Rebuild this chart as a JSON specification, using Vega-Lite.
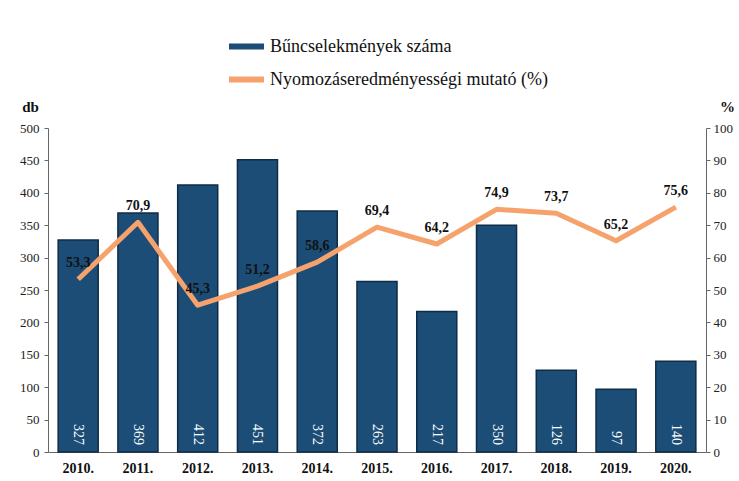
{
  "$schema": "https://vega.github.io/schema/vega-lite/v6.json",
  "width": 658,
  "height": 324,
  "autosize": {"type": "none"},
  "padding": {"left": 48, "top": 128, "right": 33, "bottom": 29},
  "background": "white",
  "config": {
    "view": {"stroke": null},
    "font": "Liberation Serif",
    "axis": {"labelFont": "Liberation Serif", "titleFont": "Liberation Serif", "labelColor": "#222", "domainColor": "#666", "tickColor": "#666", "grid": false}
  },
  "data": {
    "values": [
      {"year": "2010.", "count": 327, "pct": 53.3, "pctLabel": "53,3"},
      {"year": "2011.", "count": 369, "pct": 70.9, "pctLabel": "70,9"},
      {"year": "2012.", "count": 412, "pct": 45.3, "pctLabel": "45,3"},
      {"year": "2013.", "count": 451, "pct": 51.2, "pctLabel": "51,2"},
      {"year": "2014.", "count": 372, "pct": 58.6, "pctLabel": "58,6"},
      {"year": "2015.", "count": 263, "pct": 69.4, "pctLabel": "69,4"},
      {"year": "2016.", "count": 217, "pct": 64.2, "pctLabel": "64,2"},
      {"year": "2017.", "count": 350, "pct": 74.9, "pctLabel": "74,9"},
      {"year": "2018.", "count": 126, "pct": 73.7, "pctLabel": "73,7"},
      {"year": "2019.", "count": 97, "pct": 65.2, "pctLabel": "65,2"},
      {"year": "2020.", "count": 140, "pct": 75.6, "pctLabel": "75,6"}
    ]
  },
  "encoding": {
    "x": {
      "field": "year", "type": "ordinal", "sort": null,
      "scale": {"paddingInner": 0.33, "paddingOuter": 0.17},
      "axis": {"title": null, "labelAngle": 0, "ticks": false, "labelFontWeight": "bold", "labelFontSize": 14, "labelColor": "#111", "labelPadding": 9}
    }
  },
  "layer": [
    {
      "encoding": {
        "y": {
          "field": "count", "type": "quantitative",
          "scale": {"domain": [0, 500], "nice": false},
          "axis": {"orient": "left", "values": [0,50,100,150,200,250,300,350,400,450,500], "labelFontSize": 13, "tickSize": 4, "labelPadding": 5,
                   "title": "db", "titleAngle": 0, "titleX": -18, "titleY": -14, "titleAlign": "center", "titleBaseline": "bottom", "titleFontSize": 15, "titleFontWeight": "bold", "titleColor": "#111"}
        }
      },
      "layer": [
        {
          "mark": {"type": "bar", "stroke": "#0f2c47", "strokeWidth": 1.5},
          "encoding": {
            "color": {
              "datum": "Bűncselekmények száma",
              "scale": {"domain": ["Bűncselekmények száma", "Nyomozáseredményességi mutató (%)"], "range": ["#1c4d76", "#f5a26c"]},
              "legend": {
                "title": null, "orient": "none", "legendX": 178, "legendY": -102, "direction": "vertical",
                "symbolType": "stroke", "symbolSize": 1225, "symbolStrokeWidth": 6, "symbolOpacity": 1,
                "labelFont": "Liberation Serif", "labelFontSize": 18, "labelColor": "#111", "labelOffset": 3,
                "rowPadding": -3, "padding": 0, "labelLimit": 400
              }
            }
          }
        },
        {
          "mark": {"type": "text", "angle": 90, "align": "right", "baseline": "middle", "dx": -7, "color": "white", "fontSize": 14},
          "encoding": {"y": {"datum": 0}, "text": {"field": "count"}}
        }
      ]
    },
    {
      "encoding": {
        "y": {
          "field": "pct", "type": "quantitative",
          "scale": {"domain": [0, 100], "nice": false},
          "axis": {"orient": "right", "values": [0,10,20,30,40,50,60,70,80,90,100], "labelFontSize": 13, "tickSize": 4, "labelPadding": 3,
                   "title": "%", "titleAngle": 0, "titleX": 21, "titleY": -14, "titleAlign": "center", "titleBaseline": "bottom", "titleFontSize": 15, "titleFontWeight": "bold", "titleColor": "#111"}
        }
      },
      "layer": [
        {
          "mark": {"type": "line", "strokeWidth": 5, "strokeJoin": "round"},
          "encoding": {"color": {"datum": "Nyomozáseredményességi mutató (%)"}}
        },
        {
          "mark": {"type": "text", "dy": -16, "fontWeight": "bold", "fontSize": 14, "color": "#111"},
          "encoding": {"text": {"field": "pctLabel"}}
        }
      ]
    }
  ],
  "resolve": {"scale": {"y": "independent"}}
}
